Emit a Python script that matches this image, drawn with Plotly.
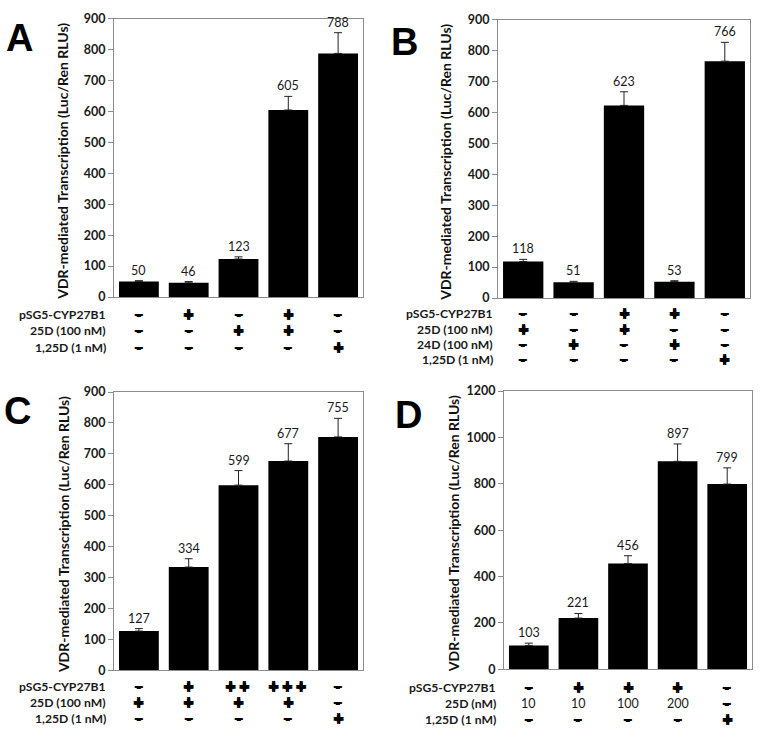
import plotly.graph_objects as go

W, H = 762, 742

# ---- data ----
cats = [0, 1, 2, 3, 4]

a_vals = [50, 46, 123, 605, 788]
a_err = [3, 4, 7, 44, 67]
a_rows = ["pSG5-CYP27B1", "25D (100 nM)", "1,25D (1 nM)"]
a_syms = [["-", "+", "-", "+", "-"],
          ["-", "-", "+", "+", "-"],
          ["-", "-", "-", "-", "+"]]

b_vals = [118, 51, 623, 53, 766]
b_err = [7, 3, 44, 3, 61]
b_rows = ["pSG5-CYP27B1", "25D (100 nM)", "24D (100 nM)", "1,25D (1 nM)"]
b_syms = [["-", "-", "+", "+", "-"],
          ["+", "-", "+", "-", "-"],
          ["-", "+", "-", "+", "-"],
          ["-", "-", "-", "-", "+"]]

c_vals = [127, 334, 599, 677, 755]
c_err = [8, 27, 47, 56, 60]
c_rows = ["pSG5-CYP27B1", "25D (100 nM)", "1,25D (1 nM)"]
c_syms = [["-", "+", "++", "+++", "-"],
          ["+", "+", "+", "+", "-"],
          ["-", "-", "-", "-", "+"]]

d_vals = [103, 221, 456, 897, 799]
d_err = [10, 20, 34, 75, 70]
d_rows = ["pSG5-CYP27B1", "25D (nM)", "1,25D (1 nM)"]
d_syms = [["-", "+", "+", "+", "-"],
          ["10", "10", "100", "200", "-"],
          ["-", "-", "-", "-", "+"]]

y_title = "VDR-mediated Transcription (Luc/Ren RLUs)"

# ---- layout geometry (reference pixels) ----
panels = [
    dict(name="A", vals=a_vals, err=a_err, rows=a_rows, syms=a_syms,
         box=(114, 363, 11, 295), ymax=900, dtick=100,
         row_y=[313, 329.5, 346], lab_x=108, title_x=63, letter=(19, 31)),
    dict(name="B", vals=b_vals, err=b_err, rows=b_rows, syms=b_syms,
         box=(498, 750, 12, 296), ymax=900, dtick=100,
         row_y=[312, 327.7, 343.3, 359], lab_x=495, title_x=446, letter=(404, 35)),
    dict(name="C", vals=c_vals, err=c_err, rows=c_rows, syms=c_syms,
         box=(114, 363, 392, 676), ymax=900, dtick=100,
         row_y=[693, 709, 725], lab_x=108, title_x=63, letter=(17, 411)),
    dict(name="D", vals=d_vals, err=d_err, rows=d_rows, syms=d_syms,
         box=(504, 752, 391, 675), ymax=1200, dtick=200,
         row_y=[694, 710, 726], lab_x=498, title_x=453, letter=(408, 415)),
]

def px(x):
    return x / W

def py(y):
    return 1 - y / H

FONT = "Lato, 'Open Sans', sans-serif"
SYM_FONT = "DejaVu Sans, sans-serif"
SYM_SIZE = 13.4
PLUS_SHADOW = "0.8px 0.8px 0 black, -0.8px -0.8px 0 black, 0.8px -0.8px 0 black, -0.8px 0.8px 0 black"
MINUS_SHADOW = "2px 0 0 black, -2px 0 0 black, 0 0.6px 0 black"

fig = go.Figure()
annotations = []
layout = dict(width=W, height=H, margin=dict(l=0, r=0, t=0, b=0),
              paper_bgcolor="white", plot_bgcolor="white", showlegend=False)

for i, p in enumerate(panels):
    sfx = "" if i == 0 else str(i + 1)
    xa, ya = "x" + sfx, "y" + sfx
    x0, x1, y0, y1 = p["box"]
    fig.add_trace(go.Bar(
        x=cats, y=p["vals"], xaxis=xa, yaxis=ya, width=0.8,
        marker=dict(color="black", line=dict(width=0)),
        error_y=dict(type="data", array=p["err"],
                     arrayminus=[0] * len(p["err"]), visible=True,
                     color="#222222", thickness=1, width=4),
    ))
    layout["xaxis" + sfx] = dict(
        domain=[px(x0), px(x1)], anchor=ya, range=[-0.5, 4.5],
        showticklabels=False, ticks="", showgrid=False, zeroline=False,
        showline=True, linecolor="#8c8c8c", linewidth=1, mirror=True,
        fixedrange=True)
    layout["yaxis" + sfx] = dict(
        domain=[py(y1), py(y0)], anchor=xa, range=[0, p["ymax"]],
        dtick=p["dtick"], tick0=0, ticks="outside", ticklen=5,
        tickcolor="#8c8c8c", showgrid=False, zeroline=False,
        showline=True, linecolor="#8c8c8c", linewidth=1, mirror=True,
        tickfont=dict(family=FONT, size=12.5, color="#1a1a1a", weight="bold"),
        fixedrange=True)
    # bar value labels above the error bars
    for c, v, e in zip(cats, p["vals"], p["err"]):
        annotations.append(dict(
            x=c, y=v + e, xref=xa, yref=ya, text=str(v), showarrow=False,
            yanchor="bottom", yshift=1,
            font=dict(family=FONT, size=12.5, color="#1a1a1a")))
    # y-axis title
    annotations.append(dict(
        x=px(p["title_x"]), y=py((y0 + y1) / 2 + 4), xref="paper", yref="paper",
        text=y_title, textangle=-90, showarrow=False,
        xanchor="center", yanchor="middle",
        font=dict(family=FONT, size=14, color="#111111", weight="bold")))
    # panel letter
    lx, ly = p["letter"]
    annotations.append(dict(
        x=px(lx), y=py(ly), xref="paper", yref="paper", text=p["name"],
        showarrow=False, xanchor="center", yanchor="middle",
        font=dict(family="Liberation Sans, Arial, sans-serif", size=38,
                  color="black", weight="bold")))
    # condition rows
    for r, (lab, ry) in enumerate(zip(p["rows"], p["row_y"])):
        annotations.append(dict(
            x=px(p["lab_x"]), y=py(ry), xref="paper", yref="paper", text=lab,
            showarrow=False, xanchor="right", yanchor="middle",
            font=dict(family=FONT, size=12.2, color="#1a1a1a", weight="bold")))
        for c, s in zip(cats, p["syms"][r]):
            if s and set(s) == {"+"}:
                f = dict(family=SYM_FONT, size=SYM_SIZE, color="black",
                         weight="bold", shadow=PLUS_SHADOW)
                txt = s
                if len(s) > 1:
                    txt = '<span style="letter-spacing:2.5px">' + s + "</span>"
            elif s and set(s) == {"-"}:
                f = dict(family=SYM_FONT, size=SYM_SIZE, color="black",
                         weight="bold", shadow=MINUS_SHADOW)
                txt = s
            else:
                f = dict(family=FONT, size=12.5, color="#1a1a1a")
                txt = s
            annotations.append(dict(
                x=c, y=py(ry), xref=xa, yref="paper", text=txt,
                showarrow=False, xanchor="center", yanchor="middle", font=f))

layout["annotations"] = annotations
fig.update_layout(**layout)
fig.write_html("out.html", config={"displayModeBar": False},
               post_script="document.body.style.margin='0px';")
